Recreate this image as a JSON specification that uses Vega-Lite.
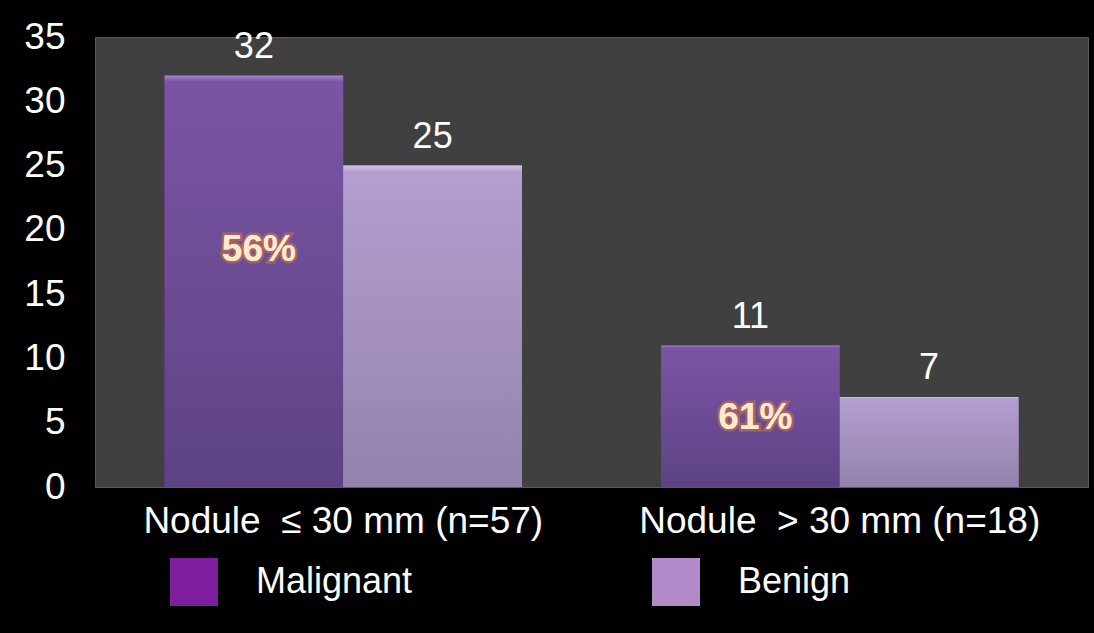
{
  "$schema": "https://vega.github.io/schema/vega-lite/v6.json",
  "width": 993,
  "height": 450,
  "autosize": {"type": "none"},
  "padding": {"left": 95, "top": 37, "right": 6, "bottom": 146},
  "background": "black",
  "config": {
    "font": "Liberation Sans",
    "view": {"fill": "#404040", "stroke": "#5a5a5a", "strokeWidth": 1},
    "legend": {
      "orient": "none",
      "legendX": 75,
      "legendY": 521,
      "direction": "horizontal",
      "symbolType": "square",
      "symbolSize": 2304,
      "symbolStrokeWidth": 0,
      "symbolOpacity": 1,
      "labelFontSize": 36,
      "labelColor": "white",
      "labelOffset": 38,
      "columnPadding": 239,
      "labelLimit": 400
    }
  },
  "datasets": {
    "counts": [
      {"group": "Nodule\u00a0 ≤ 30 mm (n=57)", "type": "Malignant", "count": 32},
      {"group": "Nodule\u00a0 ≤ 30 mm (n=57)", "type": "Benign", "count": 25},
      {"group": "Nodule\u00a0 > 30 mm (n=18)", "type": "Malignant", "count": 11},
      {"group": "Nodule\u00a0 > 30 mm (n=18)", "type": "Benign", "count": 7}
    ],
    "shares": [
      {"group": "Nodule\u00a0 ≤ 30 mm (n=57)", "type": "Malignant", "share": "56%", "anchor": 18.4},
      {"group": "Nodule\u00a0 > 30 mm (n=18)", "type": "Malignant", "share": "61%", "anchor": 5.4}
    ]
  },
  "encoding": {
    "x": {
      "field": "group",
      "type": "nominal",
      "sort": null,
      "scale": {"paddingInner": 0.28, "paddingOuter": 0.14},
      "axis": {
        "title": null,
        "labelAngle": 0,
        "labelFontSize": 37,
        "labelColor": "white",
        "labelPadding": 16,
        "labelLimit": 0,
        "ticks": false,
        "domain": false
      }
    },
    "xOffset": {
      "field": "type",
      "type": "nominal",
      "sort": ["Malignant", "Benign"],
      "scale": {"paddingInner": 0, "paddingOuter": 0}
    },
    "y": {
      "type": "quantitative",
      "scale": {"domain": [0, 35], "nice": false},
      "axis": {
        "title": null,
        "values": [0, 5, 10, 15, 20, 25, 30, 35],
        "labelFontSize": 37,
        "labelColor": "white",
        "labelPadding": 30,
        "grid": false,
        "ticks": false,
        "domain": false
      }
    }
  },
  "layer": [
    {
      "data": {"name": "counts"},
      "mark": {"type": "bar"},
      "encoding": {
        "y": {"field": "count", "type": "quantitative"},
        "color": {
          "field": "type",
          "type": "nominal",
          "sort": ["Malignant", "Benign"],
          "scale": {"domain": ["Malignant", "Benign"], "range": ["#7d1f9c", "#b38ac9"]},
          "legend": {"title": null}
        }
      }
    },
    {
      "data": {"name": "counts"},
      "mark": {"type": "bar"},
      "encoding": {
        "y": {"field": "count", "type": "quantitative"},
        "fill": {
          "condition": {
            "test": "datum.type === 'Malignant'",
            "value": {
              "gradient": "linear", "x1": 0, "y1": 0, "x2": 0, "y2": 1,
              "stops": [
                {"offset": 0, "color": "#a584d0"},
                {"offset": 0.015, "color": "#7a55a5"},
                {"offset": 1, "color": "#5d4383"}
              ]
            }
          },
          "value": {
            "gradient": "linear", "x1": 0, "y1": 0, "x2": 0, "y2": 1,
            "stops": [
              {"offset": 0, "color": "#d2c2ea"},
              {"offset": 0.02, "color": "#b39fd0"},
              {"offset": 1, "color": "#9382ad"}
            ]
          }
        }
      }
    },
    {
      "data": {"name": "counts"},
      "mark": {"type": "text", "baseline": "bottom", "dy": -10, "fontSize": 36, "color": "white"},
      "encoding": {
        "y": {"field": "count", "type": "quantitative"},
        "text": {"field": "count", "type": "quantitative"}
      }
    },
    {
      "data": {"name": "shares"},
      "mark": {
        "type": "text", "baseline": "middle", "fontSize": 37, "fontWeight": "bold", "dx": 5,
        "fill": "#ffe9cf", "stroke": "#e8822e", "strokeWidth": 5, "strokeOpacity": 0.45
      },
      "encoding": {
        "y": {"field": "anchor", "type": "quantitative"},
        "text": {"field": "share", "type": "nominal"}
      }
    },
    {
      "data": {"name": "shares"},
      "mark": {"type": "text", "baseline": "middle", "fontSize": 37, "fontWeight": "bold", "dx": 5, "fill": "#ffe9cf"},
      "encoding": {
        "y": {"field": "anchor", "type": "quantitative"},
        "text": {"field": "share", "type": "nominal"}
      }
    }
  ]
}
